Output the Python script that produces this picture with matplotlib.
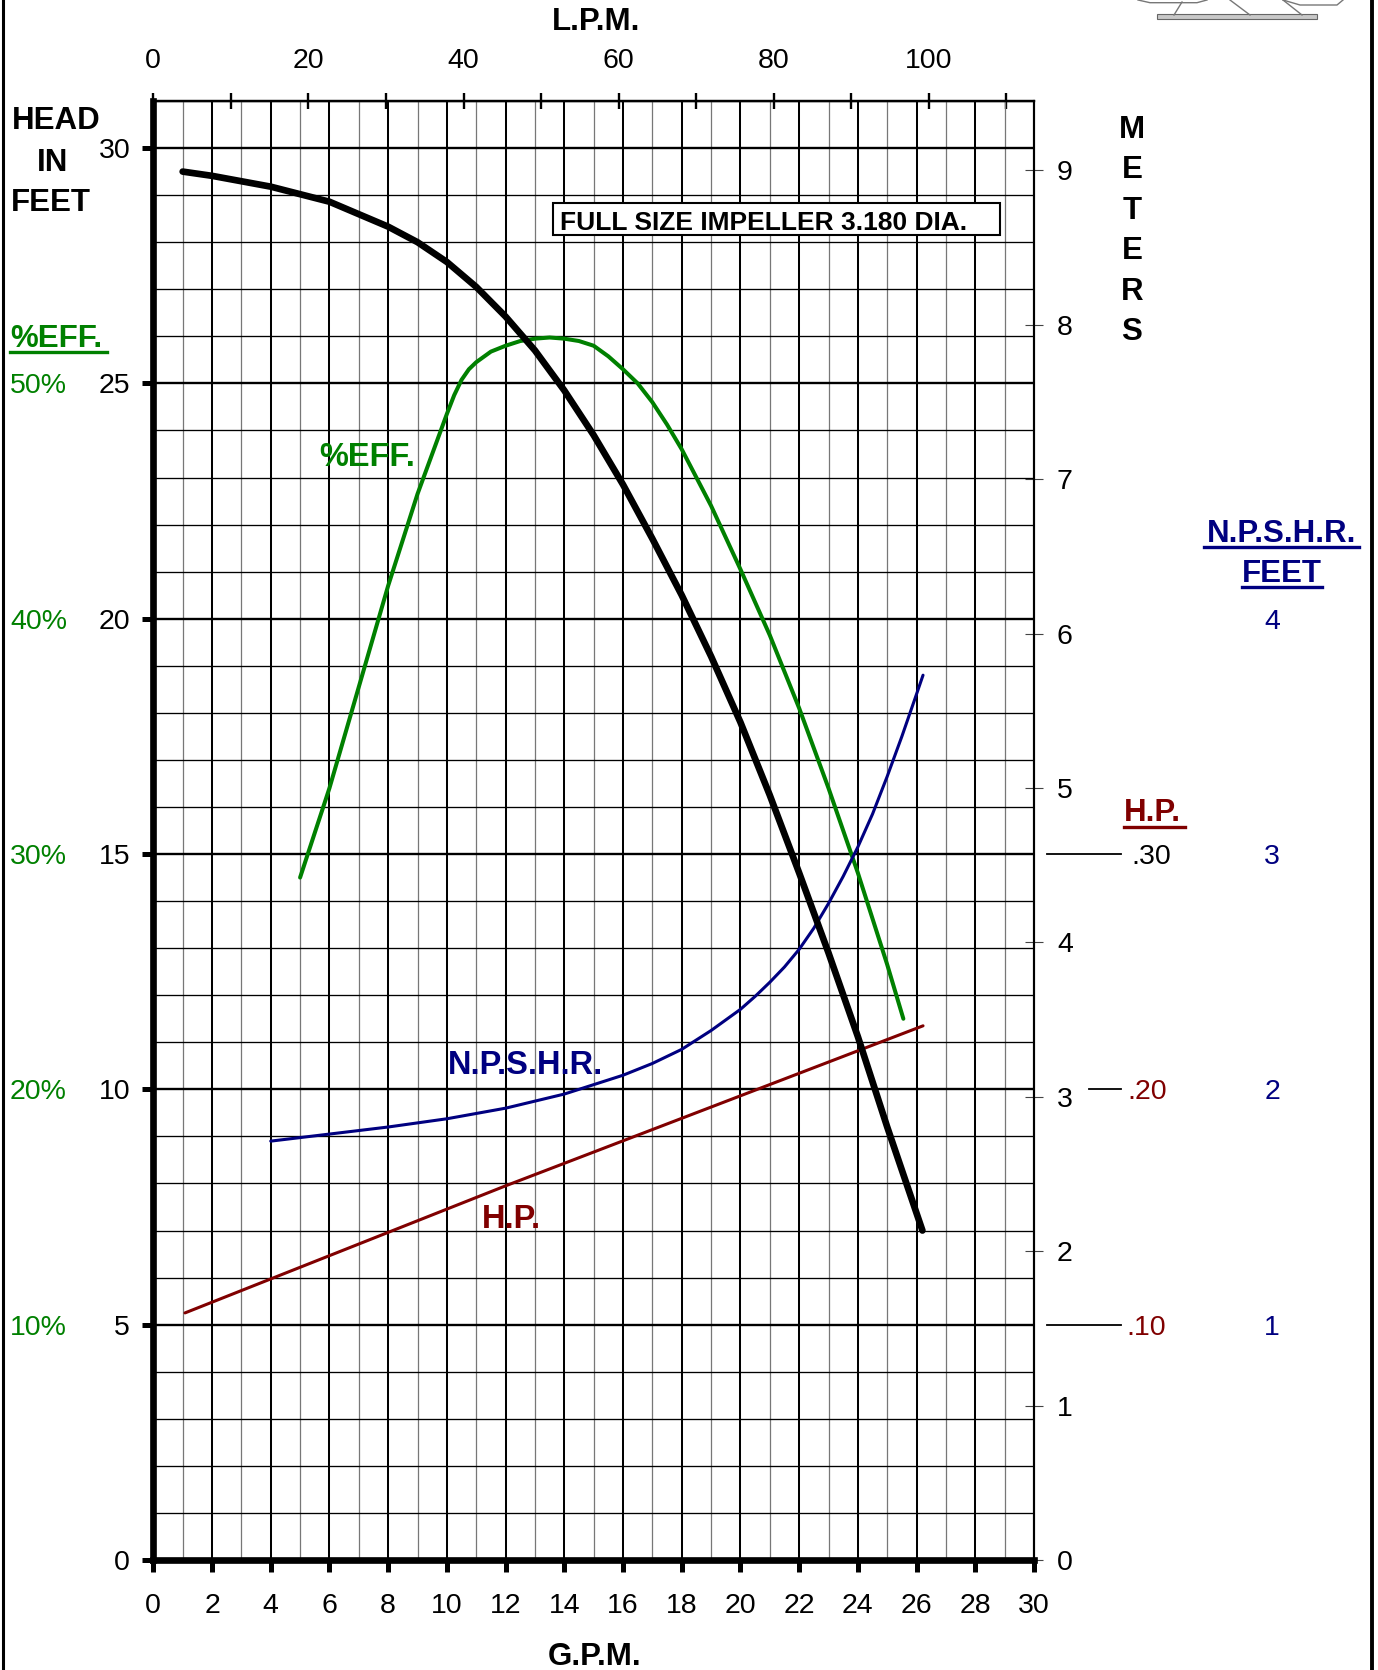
import matplotlib
matplotlib.use("Agg")
import matplotlib.pyplot as plt
from matplotlib.lines import Line2D
from matplotlib.patches import Rectangle
from matplotlib.ticker import MultipleLocator, FixedLocator
from matplotlib import transforms

plt.rcParams["font.family"] = ["Liberation Sans", "DejaVu Sans"]

# --- data ---
# head in feet vs flow in GPM
head_gpm = [1, 2, 4, 6, 8, 9, 10, 11, 12, 13, 14, 15, 16, 17, 18, 19, 20, 21, 22, 23, 24, 25, 26.2]
head_ft = [29.5, 29.41, 29.18, 28.86, 28.33, 28.0, 27.58, 27.05, 26.42, 25.7, 24.85, 23.9, 22.85,
           21.7, 20.5, 19.2, 17.8, 16.25, 14.6, 12.9, 11.12, 9.2, 7.0]

# efficiency in percent
eff_gpm = [5, 6, 7, 8, 9, 10, 10.25, 10.5, 10.75, 11, 11.5, 12, 12.5, 13, 13.5, 14, 14.5, 15,
           15.5, 16, 16.5, 17, 17.5, 18, 19, 20, 21, 22, 23, 24, 25, 25.55]
eff_pct = [29.0, 32.8, 37.1, 41.4, 45.3, 48.7, 49.5, 50.15, 50.6, 50.9, 51.35, 51.6, 51.8, 51.9,
           51.95, 51.9, 51.8, 51.6, 51.15, 50.6, 50.0, 49.2, 48.25, 47.2, 44.8, 42.1, 39.3, 36.2,
           32.8, 29.2, 25.3, 23.0]

# NPSH required in feet
npshr_gpm = [4, 6, 8, 10, 12, 14, 16, 17, 18, 19, 20, 20.5, 21, 21.5, 22, 22.5, 23, 23.5, 24,
             24.5, 25, 25.5, 26, 26.22]
npshr_ft = [1.78, 1.81, 1.84, 1.875, 1.92, 1.98, 2.06, 2.11, 2.17, 2.25, 2.34, 2.395, 2.455, 2.52,
            2.595, 2.685, 2.79, 2.905, 3.03, 3.17, 3.33, 3.5, 3.68, 3.76]

# horsepower
hp_gpm = [1.08, 12, 26.22]
hp_val = [0.105, 0.159, 0.227]

# scale labels
eff_ticks = [10, 20, 30, 40, 50]
hp_ticks = [0.10, 0.20, 0.30]
hp_tick_labels = [".10", ".20", ".30"]
npshr_ticks = [1, 2, 3, 4]
lpm_major = [0, 20, 40, 60, 80, 100]
lpm_minor = [10, 30, 50, 70, 90, 110]
meter_ticks = list(range(10))

# how each scale maps onto the head (feet) axis
EFF_PER_FT = 2.0
HP_PER_FT = 1 / 50
NPSH_PER_FT = 1 / 5
LPM_PER_GPM = 3.785
M_PER_FT = 0.3048

GREEN = "#008000"
NAVY = "#000080"
DRED = "#800000"

W, H = 1378, 1670
fig = plt.figure(figsize=(W / 100, H / 100), dpi=100)


def fx(px):
    return px / W


def fy(py):
    return 1 - py / H


ax = fig.add_axes([fx(153.3), fy(1560), fx(1034) - fx(153.3), fy(101) - fy(1560)])
ax.set_xlim(0, 30)
ax.set_ylim(0, 31)

ax.xaxis.set_major_locator(MultipleLocator(2))
ax.xaxis.set_minor_locator(MultipleLocator(1))
ax.yaxis.set_major_locator(FixedLocator([0, 5, 10, 15, 20, 25, 30]))
ax.yaxis.set_minor_locator(MultipleLocator(1))

ax.set_axisbelow(True)
ax.xaxis.grid(True, which="major", color="black", lw=1.45)
ax.xaxis.grid(True, which="minor", color="#777777", lw=0.9)
ax.yaxis.grid(True, which="minor", color="black", lw=0.95)
ax.yaxis.grid(True, which="major", color="black", lw=1.7)

ax.tick_params(axis="x", which="major", direction="out", length=8.6, width=3.6,
               pad=15, labelsize=20.5, top=False)
ax.tick_params(axis="y", which="major", direction="out", length=8, width=3.6,
               pad=8.6, labelsize=20.5, right=False)
ax.tick_params(which="minor", length=0)

for side, lw in [("left", 4.8), ("bottom", 4.8), ("top", 1.6), ("right", 1.5)]:
    ax.spines[side].set_linewidth(lw)
    ax.spines[side].set_capstyle("projecting")

# top L.P.M. scale
top = ax.secondary_xaxis("top", functions=(lambda g: g * LPM_PER_GPM, lambda l: l / LPM_PER_GPM))
top.xaxis.set_major_locator(FixedLocator(lpm_major))
top.xaxis.set_minor_locator(FixedLocator(lpm_minor))
top.tick_params(which="both", direction="inout", length=11.5, width=1.7)
top.tick_params(which="major", pad=13.5, labelsize=20.5)
top.spines["top"].set_linewidth(1.6)

# right METERS scale
right = ax.secondary_yaxis("right", functions=(lambda f: f * M_PER_FT, lambda m: m / M_PER_FT))
right.yaxis.set_major_locator(FixedLocator(meter_ticks))
right.tick_params(which="major", direction="inout", length=13, width=0.8, color="#444444",
                  pad=10, labelsize=20.5)
right.tick_params(which="minor", length=0)
right.spines["right"].set_linewidth(1.5)

# curves
ax.plot(eff_gpm, [e / EFF_PER_FT for e in eff_pct], color=GREEN, lw=2.9,
        solid_capstyle="round", solid_joinstyle="round", zorder=3)
ax.plot(npshr_gpm, [n / NPSH_PER_FT for n in npshr_ft], color=NAVY, lw=2.2,
        solid_capstyle="round", solid_joinstyle="round", zorder=3)
ax.plot(hp_gpm, [h / HP_PER_FT for h in hp_val], color=DRED, lw=2.2,
        solid_capstyle="round", zorder=3)
ax.plot(head_gpm, head_ft, color="black", lw=4.8, solid_capstyle="round",
        solid_joinstyle="round", zorder=4)

# curve labels
ax.text(5.66, 23.5, "%EFF.", color=GREEN, fontsize=23.5, fontweight="bold", va="center_baseline")
ax.text(10.05, 10.59, "N.P.S.H.R.", color=NAVY, fontsize=23.5, fontweight="bold", va="center_baseline")
ax.text(11.18, 7.31, "H.P.", color=DRED, fontsize=23.5, fontweight="bold", va="center_baseline")

# impeller box
ax.add_patch(Rectangle((13.61, 28.15), 15.23, 0.68, facecolor="white", edgecolor="black",
                       lw=1.5, zorder=5))
ax.text(13.87, 28.26, "FULL SIZE IMPELLER 3.180 DIA.", fontsize=19, fontweight="bold",
        va="baseline", zorder=6)

# side labels
fig.text(fx(596), fy(30), "L.P.M.", fontsize=22.5, fontweight="bold", ha="center", va="baseline")
fig.text(fx(595), fy(1665), "G.P.M.", fontsize=22.5, fontweight="bold", ha="center", va="baseline")

fig.text(fx(56), fy(129), "HEAD", fontsize=22.5, fontweight="bold", ha="center", va="baseline")
fig.text(fx(53), fy(171), "IN", fontsize=22.5, fontweight="bold", ha="center", va="baseline")
fig.text(fx(51), fy(211), "FEET", fontsize=22.5, fontweight="bold", ha="center", va="baseline")

fig.text(fx(10), fy(347), "%EFF.", fontsize=22.5, fontweight="bold", color=GREEN, va="baseline")
fig.add_artist(Line2D([fx(10), fx(107)], [fy(351.5), fy(351.5)], color=GREEN, lw=2.4))

for letter, yb in zip("METERS", [138, 178, 219, 259, 300, 340]):
    fig.text(fx(1132), fy(yb), letter, fontsize=22.5, fontweight="bold", ha="center", va="baseline")

fig.text(fx(1124), fy(821), "H.P.", fontsize=22.5, fontweight="bold", color=DRED, va="baseline")
fig.add_artist(Line2D([fx(1124), fx(1185)], [fy(827), fy(827)], color=DRED, lw=2.4))

fig.text(fx(1281.5), fy(542), "N.P.S.H.R.", fontsize=22.5, fontweight="bold", color=NAVY,
         ha="center", va="baseline")
fig.add_artist(Line2D([fx(1204), fx(1359)], [fy(547), fy(547)], color=NAVY, lw=2.4))
fig.text(fx(1282), fy(582), "FEET", fontsize=22.5, fontweight="bold", color=NAVY,
         ha="center", va="baseline")
fig.add_artist(Line2D([fx(1242), fx(1322)], [fy(587), fy(587)], color=NAVY, lw=2.4))

# scale numbers tied to head positions
blend = transforms.blended_transform_factory(fig.transFigure, ax.transData)
for e in eff_ticks:
    fig.text(fx(10), e / EFF_PER_FT, f"{e}%", transform=blend, color=GREEN, fontsize=20.5,
             va="center_baseline")
for n in npshr_ticks:
    fig.text(fx(1272), n / NPSH_PER_FT, str(n), transform=blend, color=NAVY, fontsize=20.5,
             ha="center", va="center_baseline")
hp_label_x = {0.10: 1126, 0.20: 1127, 0.30: 1131}
hp_line_x0 = {0.10: 1047, 0.20: 1089, 0.30: 1047}
for h, lab in zip(hp_ticks, hp_tick_labels):
    y = h / HP_PER_FT
    fig.add_artist(Line2D([fx(hp_line_x0[h]), fx(1121)], [y, y], transform=blend,
                          color="black", lw=1.3))
    fig.text(fx(hp_label_x[h]), y, lab, transform=blend, fontsize=20.5,
             color="black" if h == 0.30 else DRED, va="center_baseline")

# page frame
fig.add_artist(Line2D([fx(3.3), fx(3.3)], [0, 1], color="black", lw=2.2))
fig.add_artist(Line2D([fx(1372), fx(1372)], [0, 1], color="black", lw=2.8))

# clipped pump sketch in the top right corner
sketch = dict(color="#777777", lw=1.0)
fig.add_artist(Rectangle((fx(1157), fy(19)), fx(160), 5 / H, transform=fig.transFigure,
                         facecolor="#c8c8c8", edgecolor="#666666", lw=0.8))
for xs, ys in [([1174, 1182], [15, 2]), ([1230, 1250], [0, 15]), ([1283, 1302], [0, 15]),
               ([1138, 1150, 1197, 1207], [0, 2.7, 2.7, 0]),
               ([1283, 1300, 1337, 1343], [0, 5, 5, 0])]:
    fig.add_artist(Line2D([fx(x) for x in xs], [fy(y) for y in ys], **sketch))

fig.savefig("out.png", dpi=100)
